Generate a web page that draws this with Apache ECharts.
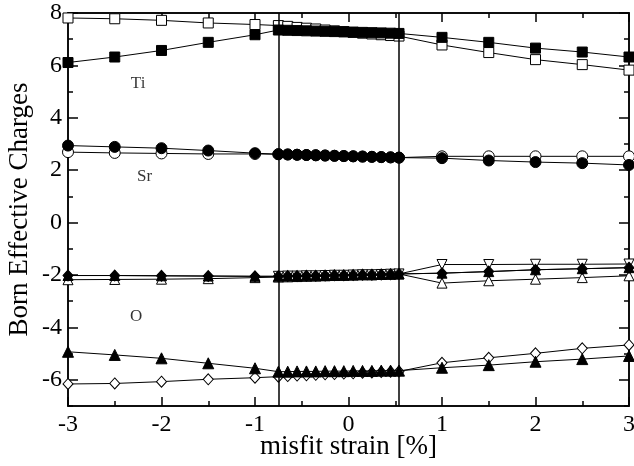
<!DOCTYPE html>
<html><head><meta charset="utf-8">
<script src="https://cdn.jsdelivr.net/npm/echarts@6/dist/echarts.min.js"></script>
<style>html,body{margin:0;padding:0;background:#fff}#c{width:634px;height:466px}</style>
</head><body><div id="c"></div>
<script>
// strain values (x)
const xLeft = [-3, -2.5, -2, -1.5, -1];
const xMid = [-0.75, -0.65, -0.55, -0.45, -0.35, -0.25, -0.15, -0.05, 0.05, 0.15, 0.25, 0.35, 0.45, 0.54];
const xRight = [1, 1.5, 2, 2.5, 3];
const xAll = xLeft.concat(xMid, xRight);
const phaseBounds = [-0.75, 0.54];

// Born effective charges
const tiFilled = [6.11, 6.32, 6.57, 6.88, 7.17,
  7.35, 7.34, 7.33, 7.32, 7.31, 7.30, 7.29, 7.28, 7.27, 7.26, 7.25, 7.24, 7.23, 7.22,
  7.07, 6.88, 6.66, 6.51, 6.32];
const tiOpen = [7.81, 7.78, 7.72, 7.62, 7.56,
  7.52, 7.49, 7.45, 7.42, 7.39, 7.35, 7.32, 7.29, 7.26, 7.23, 7.20, 7.17, 7.14, 7.12,
  6.78, 6.49, 6.22, 6.03, 5.82];
const srFilled = [2.94, 2.89, 2.84, 2.75, 2.65,
  2.61, 2.60, 2.59, 2.58, 2.57, 2.56, 2.55, 2.54, 2.53, 2.52, 2.51, 2.50, 2.49, 2.48,
  2.46, 2.37, 2.31, 2.27, 2.20];
const srOpen = [2.69, 2.66, 2.64, 2.62, 2.62,
  2.61, 2.60, 2.59, 2.58, 2.57, 2.56, 2.55, 2.54, 2.53, 2.52, 2.51, 2.50, 2.49, 2.48,
  2.53, 2.53, 2.53, 2.53, 2.53];
const oPerpDiamond = [-2.02, -2.02, -2.03, -2.04, -2.05,
  -2.05, -2.04, -2.04, -2.03, -2.03, -2.02, -2.01, -2.01, -2.00, -1.99, -1.99, -1.98, -1.97, -1.96,
  -1.93, -1.87, -1.80, -1.76, -1.72];
const oPerpTriangle = [-2.02, -2.02, -2.03, -2.04, -2.05,
  -2.05, -2.04, -2.04, -2.03, -2.03, -2.02, -2.01, -2.01, -2.00, -1.99, -1.99, -1.98, -1.97, -1.96,
  -1.93, -1.87, -1.80, -1.76, -1.72];
const oPerpOpenUp = [-2.18, -2.17, -2.16, -2.14, -2.10,
  -2.08, -2.07, -2.06, -2.05, -2.04, -2.03, -2.02, -2.01, -2.00, -1.99, -1.99, -1.98, -1.97, -1.96,
  -2.31, -2.22, -2.16, -2.10, -2.03];
const oPerpOpenDown = [null, null, null, null, null,
  -2.05, -2.04, -2.04, -2.03, -2.03, -2.02, -2.01, -2.01, -2.00, -1.99, -1.99, -1.98, -1.97, -1.96,
  -1.60, -1.60, -1.59, -1.59, -1.58];
const oParFilled = [-4.93, -5.05, -5.18, -5.37, -5.56,
  -5.69, -5.69, -5.68, -5.68, -5.68, -5.67, -5.67, -5.67, -5.66, -5.66, -5.66, -5.65, -5.65, -5.65,
  -5.54, -5.44, -5.31, -5.21, -5.09];
const oParOpen = [-6.16, -6.14, -6.07, -5.98, -5.92,
  -5.88, -5.86, -5.84, -5.83, -5.81, -5.79, -5.78, -5.76, -5.75, -5.73, -5.72, -5.70, -5.69, -5.68,
  -5.35, -5.16, -4.99, -4.80, -4.67];

const xTicks = [-3, -2, -1, 0, 1, 2, 3];
const xMinorTicks = [-2.5, -1.5, -0.5, 0.5, 1.5, 2.5];
const yTicks = [-6, -4, -2, 0, 2, 4, 6, 8];
const yMinorTicks = [-7, -5, -3, -1, 1, 3, 5, 7];
const atomLabels = [['Ti', -2.25, 5.3], ['Sr', -2.18, 1.75], ['O', -2.27, -3.6]];

function pairs(ys){ return xAll.map((x,i)=>[x, ys[i]]); }
const serif = '"Liberation Serif","DejaVu Serif",serif';

function mk(name, ys, symbol, filled, size){
  return {
    name, type:'line', data: pairs(ys), symbol, symbolSize: size,
    connectNulls:true,
    lineStyle:{color:'#000', width:1},
    itemStyle:{color: filled ? '#000' : '#fff', borderColor:'#000', borderWidth:1},
    emphasis:{disabled:true}, z: filled?4:3
  };
}
const diamond = 'path://M0,-1L1,0L0,1L-1,0Z';
const triDown = 'path://M-1,-1L1,-1L0,1Z';

const series = [
  mk('Ti open', tiOpen, 'rect', false, 10),
  mk('Ti filled', tiFilled, 'rect', true, 10),
  mk('Sr open', srOpen, 'circle', false, 11),
  mk('Sr filled', srFilled, 'circle', true, 11),
  mk('O perp open down', oPerpOpenDown, triDown, false, [10,10]),
  mk('O perp open up', oPerpOpenUp, 'triangle', false, 10),
  mk('O perp tri', oPerpTriangle, 'triangle', true, 10),
  mk('O perp diamond', oPerpDiamond, diamond, true, [10,11]),
  mk('O par open', oParOpen, diamond, false, [10,11]),
  mk('O par filled', oParFilled, 'triangle', true, 11),
  {
    type:'line', data:[], silent:true,
    markLine:{symbol:'none', silent:true, label:{show:false},
      lineStyle:{color:'#000', width:1.5, type:'solid'},
      data: phaseBounds.map(v=>({xAxis:v}))}
  },
  {
    type:'scatter', symbolSize:0, silent:true,
    data: atomLabels.map(a=>[a[1], a[2], a[0]]),
    label:{show:true, position:'inside', formatter:p=>p.data[2],
      fontFamily:serif, fontSize:17, color:'#000'}
  }
];

const line = {onZero:false, lineStyle:{color:'#000', width:1.5}};
function tick(len, vals){ return {inside:true, length:len, customValues:vals, lineStyle:{color:'#000', width:1.5}}; }
const noLab = {show:false};

const chart = echarts.init(document.getElementById('c'), null, {renderer:'canvas'});
chart.setOption({
  animation:false,
  backgroundColor:'#fff',
  grid:{left:68, right:5, top:13, bottom:60, containLabel:false, outerBoundsMode:'none'},
  xAxis:[
    {type:'value', min:-3, max:3, position:'bottom', axisLine:line, splitLine:{show:false},
      axisTick:tick(9, xTicks),
      name:'misfit strain [%]', nameLocation:'middle', nameGap:27, nameMoveOverlap:false,
      nameTextStyle:{fontFamily:serif, fontSize:27, color:'#000'},
      axisLabel:{fontFamily:serif, fontSize:24, color:'#000', margin:7, customValues:xTicks}},
    {type:'value', min:-3, max:3, position:'bottom', axisLine:line, splitLine:{show:false},
      axisTick:tick(5, xMinorTicks), axisLabel:noLab},
    {type:'value', min:-3, max:3, position:'top', axisLine:line, splitLine:{show:false},
      axisTick:tick(9, xTicks), axisLabel:noLab},
    {type:'value', min:-3, max:3, position:'top', axisLine:line, splitLine:{show:false},
      axisTick:tick(5, xMinorTicks), axisLabel:noLab}
  ],
  yAxis:[
    {type:'value', min:-7, max:8, position:'left', axisLine:line, splitLine:{show:false},
      axisTick:tick(10, yTicks),
      name:'Born Effective Charges', nameLocation:'middle', nameGap:35, nameMoveOverlap:false,
      nameTextStyle:{fontFamily:serif, fontSize:27, color:'#000'},
      axisLabel:{fontFamily:serif, fontSize:24, color:'#000', margin:6, customValues:yTicks}},
    {type:'value', min:-7, max:8, position:'left', axisLine:line, splitLine:{show:false},
      axisTick:tick(5, yMinorTicks), axisLabel:noLab},
    {type:'value', min:-7, max:8, position:'right', axisLine:line, splitLine:{show:false},
      axisTick:tick(10, yTicks), axisLabel:noLab},
    {type:'value', min:-7, max:8, position:'right', axisLine:line, splitLine:{show:false},
      axisTick:tick(5, yMinorTicks), axisLabel:noLab}
  ],
  series
});
</script></body></html>
